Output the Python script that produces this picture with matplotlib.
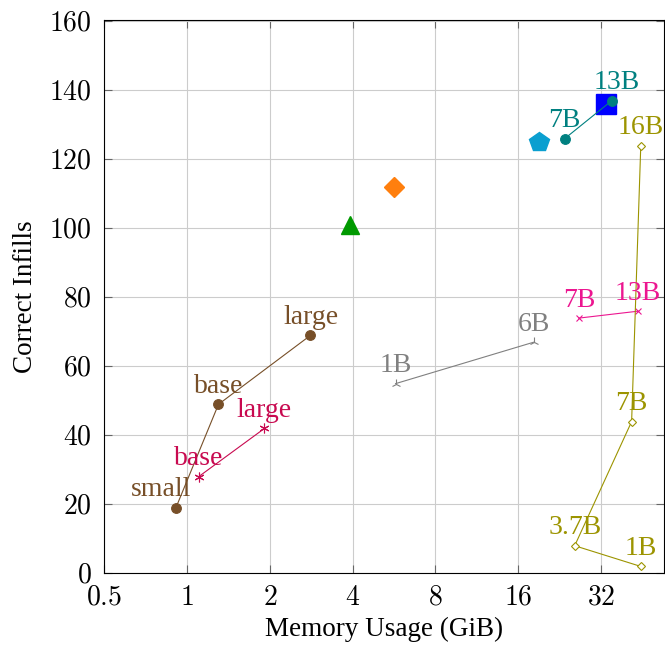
import matplotlib
matplotlib.use("Agg")
import matplotlib.pyplot as plt

plt.rcParams['font.family'] = ['Liberation Serif', 'DejaVu Serif']
plt.rcParams['mathtext.fontset'] = 'cm'

# series: memory (GiB), correct infills, point labels
brown_x = [0.91, 1.30, 2.81]
brown_y = [19, 49, 69]
brown_lab = ["small", "base", "large"]

crimson_x = [1.10, 1.91]
crimson_y = [28, 42]
crimson_lab = ["base", "large"]

gray_x = [5.73, 18.2]
gray_y = [55, 67]
gray_lab = ["1B", "6B"]

pink_x = [26.6, 43.6]
pink_y = [74, 76]
pink_lab = ["7B", "13B"]

olive_x = [44.7, 25.7, 41.4, 44.7]
olive_y = [2, 8, 44, 124]
olive_lab = ["1B", "3.7B", "7B", "16B"]

teal_x = [23.6, 35.0]
teal_y = [126, 137]
teal_lab = ["7B", "13B"]

# single models
single_x = [3.90, 5.64, 19.0, 33.3]
single_y = [101, 112, 125, 136]

xticks = [0.5, 1, 2, 4, 8, 16, 32]
xtick_labels = ["0.5", "1", "2", "4", "8", "16", "32"]
yticks = [0, 20, 40, 60, 80, 100, 120, 140, 160]

fig = plt.figure(figsize=(6.65, 6.49), dpi=100)
ax = fig.add_axes([0.157, 0.1166, 0.8415, 0.8524])
ax.set_xscale('log', base=2)
ax.set_xlim(0.5, 54.3)
ax.set_ylim(0, 160.4)

lw = 0.8
fs = 20

def series(xs, ys, labs, color, marker, ms, mfc=None, offs=None):
    ax.plot(xs, ys, color=color, lw=lw, marker=marker, ms=ms,
            mfc=mfc if mfc else color, mec=color, mew=0.8, zorder=3)
    for i, (x, y, t) in enumerate(zip(xs, ys, labs)):
        dx = offs[i] if offs else 0
        ax.annotate(t, (x, y), xytext=(dx, 4), textcoords='offset points',
                    ha='center', va='bottom', color=color, fontsize=fs, zorder=4)

series(brown_x, brown_y, brown_lab, '#774f28', 'o', 7, offs=[-11, 0, 0])
series(crimson_x, crimson_y, crimson_lab, '#c80a50', (6, 2, 0), 7)
series(gray_x, gray_y, gray_lab, '#808080', '2', 7)
series(pink_x, pink_y, pink_lab, '#ec1690', 'x', 5)
series(olive_x, olive_y, olive_lab, '#9c9400', 'D', 4.5, mfc='white')
ax.plot(single_x[3], single_y[3], marker='s', ms=15, color='#0000ff', lw=0, zorder=2)
series(teal_x, teal_y, teal_lab, '#008080', 'o', 7, offs=[0, 4])
ax.plot(single_x[0], single_y[0], marker='^', ms=13, color='#009900', lw=0, zorder=3)
ax.plot(single_x[1], single_y[1], marker='D', ms=10, color='#ff7f0e', lw=0, zorder=3)
ax.plot(single_x[2], single_y[2], marker='p', ms=15, color='#0a9fd0', lw=0, zorder=3)

ax.set_xticks(xticks)
ax.set_xticklabels(['$' + s + '$' for s in xtick_labels])
ax.xaxis.set_minor_locator(matplotlib.ticker.NullLocator())
ax.set_yticks(yticks)
ax.set_yticklabels(['$' + str(v) + '$' for v in yticks])
ax.tick_params(labelsize=20, direction='in', length=6, color='#666666',
               top=True, right=True)
ax.tick_params(axis='y', pad=9)
ax.tick_params(axis='x', pad=9)
ax.grid(True, color='#cccccc', lw=0.8)
ax.set_axisbelow(True)
for s in ax.spines.values():
    s.set_linewidth(0.8)

ax.set_xlabel("Memory Usage (GiB)", fontsize=19.5, labelpad=4)
ax.set_ylabel("Correct Infills", fontsize=19.5, labelpad=8)

fig.savefig("out.png", dpi=100)
